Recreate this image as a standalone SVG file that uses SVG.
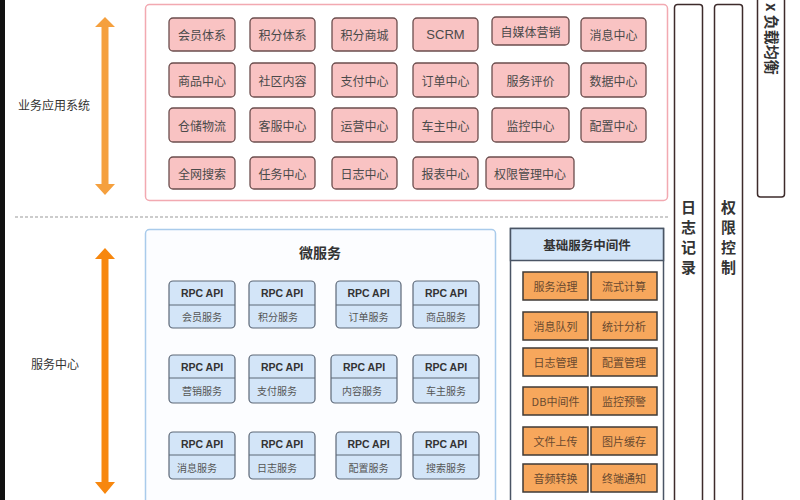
<svg xmlns="http://www.w3.org/2000/svg" width="800" height="500" viewBox="0 0 800 500">
<style>
text{font-family:"Noto Sans CJK SC","Liberation Sans",sans-serif;}
.pk{fill:#f9c3c3;stroke:#6b4d4d;stroke-width:1.3;}
.pt{font-size:12px;fill:#4a4a4a;text-anchor:middle;dominant-baseline:central;}
.rb{fill:#d3e5f8;stroke:#5d6877;stroke-width:1.2;}
.rh{font-size:10.5px;font-weight:bold;fill:#333;text-anchor:middle;dominant-baseline:central;font-family:"Liberation Sans",sans-serif;}
.rt{font-size:10px;fill:#555;text-anchor:middle;dominant-baseline:central;}
.ob{fill:#f7a75c;stroke:#3f3a36;stroke-width:1.5;}
.ot{font-size:11px;fill:#6a4a30;text-anchor:middle;dominant-baseline:central;}
.col{fill:#fff;stroke:#3d2b2b;stroke-width:1.5;}
.vt{font-size:15px;font-weight:bold;fill:#333;text-anchor:middle;dominant-baseline:central;}
.lab{font-size:12px;fill:#333;text-anchor:middle;dominant-baseline:central;}
</style>
<rect width="800" height="500" fill="#fff"/>
<rect x="0" y="0" width="5" height="500" fill="#111"/>

<g id="side">
<line x1="15" y1="217" x2="668" y2="217" stroke="#999" stroke-width="1" stroke-dasharray="3,2"/>
<text class="lab" x="54" y="104">业务应用系统</text>
<text class="lab" x="55" y="363">服务中心</text>
</g>
<g id="connectors">
<path d="M105 17 L115 27 L108.5 27 L108.5 184 L115 184 L105 195 L95 184 L101.5 184 L101.5 27 L95 27 Z" fill="#f5a03e"/>
<path d="M105 248 L115 259 L108.5 259 L108.5 482 L115 482 L105 494 L95 482 L101.5 482 L101.5 259 L95 259 Z" fill="#f7870e"/>
</g>

<g id="app-panel">
<rect x="145.5" y="4.5" width="522" height="196" rx="4" fill="#fff" stroke="#f2a9b1" stroke-width="1.5"/>
</g>
<g id="n-huiyuan"><rect class="pk" x="169" y="18" width="66" height="33" rx="4"/><text class="pt" x="202" y="34.5">会员体系</text></g>
<g id="n-jifen"><rect class="pk" x="250" y="18" width="65" height="33" rx="4"/><text class="pt" x="282.5" y="34.5">积分体系</text></g>
<g id="n-shangcheng"><rect class="pk" x="332" y="18" width="65" height="33" rx="4"/><text class="pt" x="364.5" y="34.5">积分商城</text></g>
<g id="n-scrm"><rect class="pk" x="413" y="18" width="65" height="33" rx="4"/><text class="pt" x="445.5" y="34.5" style="font-family:'Liberation Sans',sans-serif;font-size:13px">SCRM</text></g>
<g id="n-zimeiti"><rect class="pk" x="492" y="17" width="77" height="28" rx="4"/><text class="pt" x="530.5" y="31">自媒体营销</text></g>
<g id="n-xiaoxi"><rect class="pk" x="581" y="18" width="65" height="33" rx="4"/><text class="pt" x="613.5" y="34.5">消息中心</text></g>

<g id="n-shangpin"><rect class="pk" x="169" y="63" width="66" height="34" rx="4"/><text class="pt" x="202" y="80">商品中心</text></g>
<g id="n-shequ"><rect class="pk" x="250" y="63" width="65" height="34" rx="4"/><text class="pt" x="282.5" y="80">社区内容</text></g>
<g id="n-zhifu"><rect class="pk" x="332" y="63" width="65" height="34" rx="4"/><text class="pt" x="364.5" y="80">支付中心</text></g>
<g id="n-dingdan"><rect class="pk" x="413" y="63" width="65" height="34" rx="4"/><text class="pt" x="445.5" y="80">订单中心</text></g>
<g id="n-pingjia"><rect class="pk" x="492" y="63" width="77" height="34" rx="4"/><text class="pt" x="530.5" y="80">服务评价</text></g>
<g id="n-shuju"><rect class="pk" x="581" y="63" width="65" height="34" rx="4"/><text class="pt" x="613.5" y="80">数据中心</text></g>

<g id="n-cangchu"><rect class="pk" x="169" y="108" width="66" height="34" rx="4"/><text class="pt" x="202" y="125">仓储物流</text></g>
<g id="n-kefu"><rect class="pk" x="250" y="108" width="65" height="34" rx="4"/><text class="pt" x="282.5" y="125">客服中心</text></g>
<g id="n-yunying"><rect class="pk" x="332" y="108" width="65" height="34" rx="4"/><text class="pt" x="364.5" y="125">运营中心</text></g>
<g id="n-chezhu"><rect class="pk" x="413" y="108" width="65" height="34" rx="4"/><text class="pt" x="445.5" y="125">车主中心</text></g>
<g id="n-jiankong"><rect class="pk" x="492" y="108" width="77" height="34" rx="4"/><text class="pt" x="530.5" y="125">监控中心</text></g>
<g id="n-peizhi"><rect class="pk" x="581" y="108" width="65" height="34" rx="4"/><text class="pt" x="613.5" y="125">配置中心</text></g>

<g id="n-sousuo"><rect class="pk" x="169" y="157" width="66" height="32" rx="4"/><text class="pt" x="202" y="173">全网搜索</text></g>
<g id="n-renwu"><rect class="pk" x="250" y="157" width="65" height="32" rx="4"/><text class="pt" x="282.5" y="173">任务中心</text></g>
<g id="n-rizhi"><rect class="pk" x="332" y="157" width="65" height="32" rx="4"/><text class="pt" x="364.5" y="173">日志中心</text></g>
<g id="n-baobiao"><rect class="pk" x="413" y="157" width="65" height="32" rx="4"/><text class="pt" x="445.5" y="173">报表中心</text></g>
<g id="n-quanxian"><rect class="pk" x="486" y="157" width="88" height="32" rx="4"/><text class="pt" x="530" y="173">权限管理中心</text></g>

<g id="micro-panel">
<rect x="145.5" y="229.5" width="350" height="280" rx="4" fill="#fcfdff" stroke="#a9cbeb" stroke-width="1.5"/>
<text x="320" y="252" font-size="14" font-weight="bold" fill="#333" text-anchor="middle" dominant-baseline="central">微服务</text>
</g>
<g id="s-huiyuan"><rect class="rb" x="169" y="281" width="66" height="47" rx="4"/><line x1="169" y1="305" x2="235" y2="305" stroke="#5d6877"/><text class="rh" x="202" y="293">RPC API</text><text class="rt" x="202" y="316.5">会员服务</text></g>
<g id="s-jifen"><rect class="rb" x="249" y="281" width="66" height="47" rx="4"/><line x1="249" y1="305" x2="315" y2="305" stroke="#5d6877"/><text class="rh" x="282" y="293">RPC API</text><text class="rt" x="278" y="316.5">积分服务</text></g>
<g id="s-dingdan"><rect class="rb" x="336" y="281" width="65" height="47" rx="4"/><line x1="336" y1="305" x2="401" y2="305" stroke="#5d6877"/><text class="rh" x="368.5" y="293">RPC API</text><text class="rt" x="368.5" y="316.5">订单服务</text></g>
<g id="s-shangpin"><rect class="rb" x="413" y="281" width="66" height="47" rx="4"/><line x1="413" y1="305" x2="479" y2="305" stroke="#5d6877"/><text class="rh" x="446" y="293">RPC API</text><text class="rt" x="446" y="316.5">商品服务</text></g>

<g id="s-yingxiao"><rect class="rb" x="169" y="355" width="66" height="48" rx="4"/><line x1="169" y1="378" x2="235" y2="378" stroke="#5d6877"/><text class="rh" x="202" y="366.5">RPC API</text><text class="rt" x="202" y="390.5">营销服务</text></g>
<g id="s-zhifu"><rect class="rb" x="249" y="355" width="66" height="48" rx="4"/><line x1="249" y1="378" x2="315" y2="378" stroke="#5d6877"/><text class="rh" x="282" y="366.5">RPC API</text><text class="rt" x="277" y="390.5">支付服务</text></g>
<g id="s-neirong"><rect class="rb" x="331" y="355" width="66" height="48" rx="4"/><line x1="331" y1="378" x2="397" y2="378" stroke="#5d6877"/><text class="rh" x="364" y="366.5">RPC API</text><text class="rt" x="362" y="390.5">内容服务</text></g>
<g id="s-chezhu"><rect class="rb" x="413" y="355" width="66" height="48" rx="4"/><line x1="413" y1="378" x2="479" y2="378" stroke="#5d6877"/><text class="rh" x="446" y="366.5">RPC API</text><text class="rt" x="446" y="390.5">车主服务</text></g>

<g id="s-xiaoxi"><rect class="rb" x="169" y="432" width="66" height="47" rx="4"/><line x1="169" y1="455" x2="235" y2="455" stroke="#5d6877"/><text class="rh" x="202" y="443.5">RPC API</text><text class="rt" x="197" y="467">消息服务</text></g>
<g id="s-rizhi"><rect class="rb" x="249" y="432" width="66" height="47" rx="4"/><line x1="249" y1="455" x2="315" y2="455" stroke="#5d6877"/><text class="rh" x="282" y="443.5">RPC API</text><text class="rt" x="277" y="467">日志服务</text></g>
<g id="s-peizhi"><rect class="rb" x="336" y="432" width="65" height="47" rx="4"/><line x1="336" y1="455" x2="401" y2="455" stroke="#5d6877"/><text class="rh" x="368.5" y="443.5">RPC API</text><text class="rt" x="368.5" y="467">配置服务</text></g>
<g id="s-sousuo"><rect class="rb" x="413" y="432" width="66" height="47" rx="4"/><line x1="413" y1="455" x2="479" y2="455" stroke="#5d6877"/><text class="rh" x="446" y="443.5">RPC API</text><text class="rt" x="446" y="467">搜索服务</text></g>

<g id="middleware">
<rect x="510.5" y="228.5" width="153" height="280" fill="#fff" stroke="#4a5565" stroke-width="1.5"/>
<rect x="510.5" y="228.5" width="153" height="32" fill="#d3e5f8" stroke="#4a5565" stroke-width="1.5"/>
<text x="587" y="244.5" font-size="12.5" font-weight="bold" fill="#333" text-anchor="middle" dominant-baseline="central">基础服务中间件</text>
</g>
<g id="m-zhili"><rect class="ob" x="523" y="272" width="65" height="28"/><text class="ot" x="555.5" y="286">服务治理</text></g>
<g id="m-liushi"><rect class="ob" x="591" y="272" width="66" height="28"/><text class="ot" x="624" y="286">流式计算</text></g>
<g id="m-duilie"><rect class="ob" x="523" y="312" width="65" height="28"/><text class="ot" x="555.5" y="326">消息队列</text></g>
<g id="m-tongji"><rect class="ob" x="591" y="312" width="66" height="28"/><text class="ot" x="624" y="326">统计分析</text></g>
<g id="m-rizhi"><rect class="ob" x="523" y="348" width="65" height="28"/><text class="ot" x="555.5" y="362">日志管理</text></g>
<g id="m-peizhi"><rect class="ob" x="591" y="348" width="66" height="28"/><text class="ot" x="624" y="362">配置管理</text></g>
<g id="m-db"><rect class="ob" x="523" y="387" width="65" height="28"/><text class="ot" x="555.5" y="401">DB中间件</text></g>
<g id="m-jiankong"><rect class="ob" x="591" y="387" width="66" height="28"/><text class="ot" x="624" y="401">监控预警</text></g>
<g id="m-wenjian"><rect class="ob" x="523" y="427" width="65" height="28"/><text class="ot" x="555.5" y="441">文件上传</text></g>
<g id="m-tupian"><rect class="ob" x="591" y="427" width="66" height="28"/><text class="ot" x="624" y="441">图片缓存</text></g>
<g id="m-yinpin"><rect class="ob" x="523" y="464" width="65" height="28"/><text class="ot" x="555.5" y="478">音频转换</text></g>
<g id="m-tongzhi"><rect class="ob" x="591" y="464" width="66" height="28"/><text class="ot" x="624" y="478">终端通知</text></g>

<g id="col-log">
<rect class="col" x="674.5" y="4.5" width="28" height="510" rx="3"/>
<text class="vt" x="688.5" y="206">日</text><text class="vt" x="688.5" y="226">志</text><text class="vt" x="688.5" y="246">记</text><text class="vt" x="688.5" y="266">录</text>
</g>
<g id="col-auth">
<rect class="col" x="714.5" y="4.5" width="28" height="510" rx="3"/>
<text class="vt" x="728.5" y="206">权</text><text class="vt" x="728.5" y="226">限</text><text class="vt" x="728.5" y="246">控</text><text class="vt" x="728.5" y="266">制</text>
</g>
<g id="col-lb">
<rect class="col" x="757.5" y="-10" width="27" height="207" rx="3"/>
<text x="0" y="0" font-size="15" font-weight="bold" fill="#333" transform="translate(766 3) rotate(90)">x 负载均衡</text>
</g>
</svg>
